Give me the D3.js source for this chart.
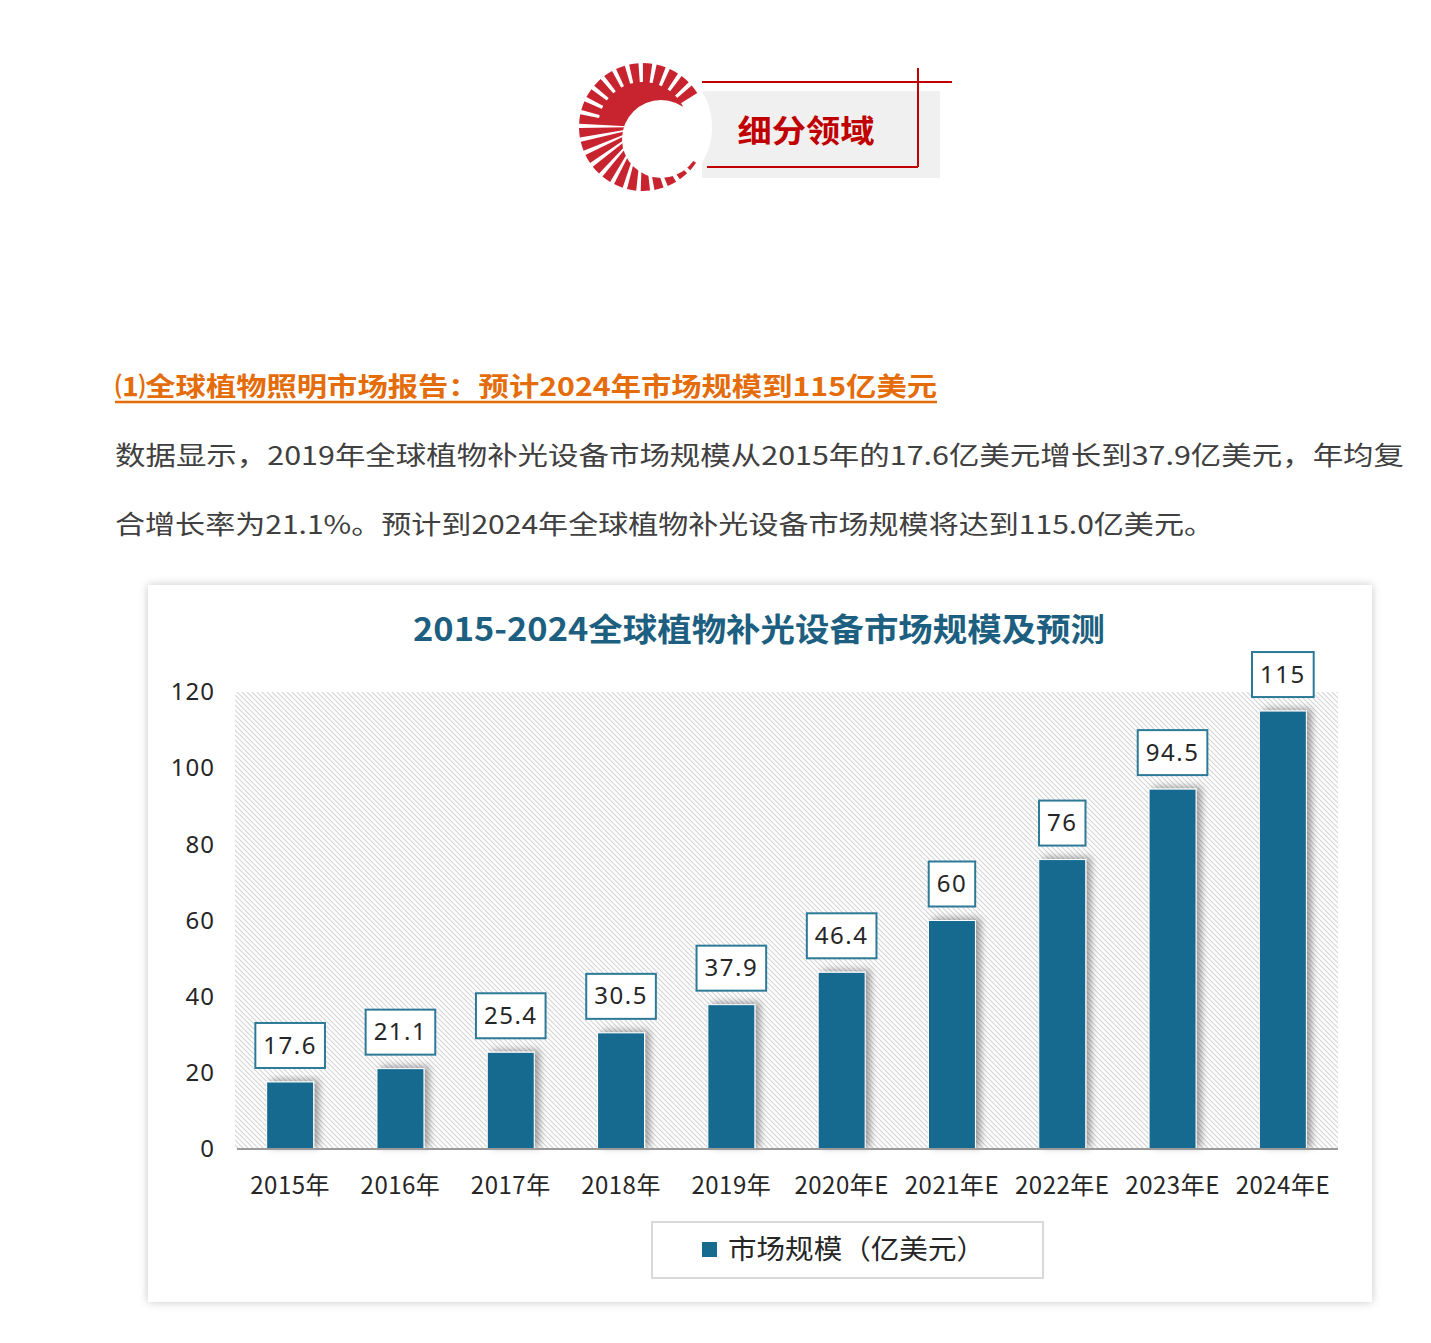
<!DOCTYPE html>
<html>
<head>
<meta charset="utf-8">
<script src="https://cdn.jsdelivr.net/npm/d3@7"></script>
<style>
  body { margin: 0; background: #fff; }
  svg { display: block; font-family: "Noto Sans CJK SC", "Noto Sans", sans-serif; }
</style>
</head>
<body>
<svg id="page" width="1431" height="1343"></svg>
<script>
// chart data
const years = ["2015年", "2016年", "2017年", "2018年", "2019年", "2020年E", "2021年E", "2022年E", "2023年E", "2024年E"];
const marketSize = [17.6, 21.1, 25.4, 30.5, 37.9, 46.4, 60, 76, 94.5, 115];
const yTicks = [0, 20, 40, 60, 80, 100, 120];
const seriesName = "市场规模（亿美元）";
const chartTitle = "2015-2024全球植物补光设备市场规模及预测";

const svg = d3.select("#page");
const defs = svg.append("defs");

// hatch for plot background
defs.append("pattern")
  .attr("id", "hatch")
  .attr("patternUnits", "userSpaceOnUse")
  .attr("width", 5)
  .attr("height", 5)
  .append("path")
  .attr("d", "M0,0L5,5M-1,4L1,6M4,-1L6,1")
  .attr("stroke", "#d4d4d4")
  .attr("stroke-width", 1.1);

const boxShadow = defs.append("filter").attr("id", "boxShadow")
  .attr("x", "-5%").attr("y", "-5%").attr("width", "110%").attr("height", "110%");
boxShadow.append("feDropShadow")
  .attr("dx", 0).attr("dy", 0).attr("stdDeviation", 5)
  .attr("flood-color", "#000").attr("flood-opacity", 0.22);

const barShadow = defs.append("filter").attr("id", "barShadow")
  .attr("x", "-30%").attr("y", "-10%").attr("width", "180%").attr("height", "120%");
barShadow.append("feDropShadow")
  .attr("dx", 5).attr("dy", -2).attr("stdDeviation", 3.5)
  .attr("flood-color", "#000").attr("flood-opacity", 0.35);

// ---- header badge ----
const badge = svg.append("g");
badge.append("rect")
  .attr("x", 702).attr("y", 91).attr("width", 238).attr("height", 87)
  .attr("fill", "#f0f0f0");
badge.append("path")
  .attr("d", "M702,82H952M918,68V167M707,167H918")
  .attr("fill", "none").attr("stroke", "#c00000").attr("stroke-width", 2);
badge.append("text")
  .attr("x", 806).attr("y", 142)
  .attr("text-anchor", "middle")
  .attr("fill", "#c00000")
  .attr("font-size", 31).attr("font-weight", 700)
  .attr("textLength", 137).attr("lengthAdjust", "spacingAndGlyphs")
  .text("细分领域");

const logo = badge.append("g").attr("transform", "translate(643,127)");
logo.append("circle").attr("r", 69).attr("fill", "#fff");
const rayArc = d3.arc().innerRadius(16).outerRadius(64);
const rayCount = 24;
const rayStart = 122 * Math.PI / 180, rayEnd = 420 * Math.PI / 180;
const rayStep = (rayEnd - rayStart) / rayCount;
d3.range(rayCount).forEach(function(i) {
  const a0 = rayStart + i * rayStep;
  logo.append("path")
    .attr("d", rayArc({ startAngle: a0 + 0.035, endAngle: a0 + rayStep - 0.035 }))
    .attr("fill", "#c8242f");
});
// solid crescent at the top
logo.append("path")
  .attr("d", d3.arc().innerRadius(0).outerRadius(45)({ startAngle: -1.45, endAngle: 1.2 }))
  .attr("fill", "#c8242f");
logo.append("circle")
  .attr("cx", 18).attr("cy", 12).attr("r", 39)
  .attr("fill", "#fff");

// ---- heading and paragraph ----
svg.append("text")
  .attr("x", 115).attr("y", 396)
  .attr("fill", "#e46c0a")
  .attr("font-size", 26).attr("font-weight", 700)
  .attr("textLength", 822).attr("lengthAdjust", "spacingAndGlyphs")
  .text("⑴全球植物照明市场报告：预计2024年市场规模到115亿美元");
svg.append("line")
  .attr("x1", 115).attr("x2", 937).attr("y1", 402).attr("y2", 402)
  .attr("stroke", "#e46c0a").attr("stroke-width", 2.5);

const para = [
  "数据显示，2019年全球植物补光设备市场规模从2015年的17.6亿美元增长到37.9亿美元，年均复",
  "合增长率为21.1%。预计到2024年全球植物补光设备市场规模将达到115.0亿美元。"
];
const paraWidth = [1289, 1099];
para.forEach(function(line, i) {
  svg.append("text")
    .attr("x", 115).attr("y", 465 + i * 69)
    .attr("fill", "#404040")
    .attr("font-size", 26)
    .attr("textLength", paraWidth[i]).attr("lengthAdjust", "spacingAndGlyphs")
    .text(line);
});

// ---- chart card ----
svg.append("rect")
  .attr("x", 148).attr("y", 585).attr("width", 1224).attr("height", 717)
  .attr("fill", "#fff")
  .attr("filter", "url(#boxShadow)");

svg.append("text")
  .attr("x", 759).attr("y", 641)
  .attr("text-anchor", "middle")
  .attr("fill", "#1d5f80")
  .attr("font-size", 32).attr("font-weight", 700)
  .attr("textLength", 692).attr("lengthAdjust", "spacingAndGlyphs")
  .text(chartTitle);

const plot = { left: 235, right: 1338, top: 692, bottom: 1149 };

const x = d3.scaleBand()
  .domain(years)
  .range([plot.left, plot.right])
  .paddingInner(0.574)
  .paddingOuter(0.287);
const y = d3.scaleLinear()
  .domain([0, 120])
  .range([plot.bottom, plot.top]);

svg.append("rect")
  .attr("x", plot.left).attr("y", plot.top)
  .attr("width", plot.right - plot.left).attr("height", plot.bottom - plot.top)
  .attr("fill", "url(#hatch)");

// y axis labels
const yAxis = svg.append("g")
  .attr("transform", "translate(" + plot.left + ",0)")
  .call(d3.axisLeft(y).tickValues(yTicks).tickSize(0).tickPadding(20));
yAxis.select(".domain").remove();
yAxis.selectAll("text")
  .attr("font-family", "'Noto Sans', sans-serif")
  .attr("font-size", 24)
  .attr("letter-spacing", 1)
  .attr("fill", "#262626");

// bars
svg.append("g")
  .selectAll("rect")
  .data(marketSize)
  .enter()
  .append("rect")
  .attr("x", (d, i) => x(years[i]))
  .attr("y", d => y(d))
  .attr("width", x.bandwidth())
  .attr("height", d => y(0) - y(d))
  .attr("fill", "#176b8f")
  .attr("stroke", "#fff")
  .attr("stroke-width", 1)
  .attr("filter", "url(#barShadow)");

// x axis
const xAxis = svg.append("g")
  .attr("transform", "translate(0," + plot.bottom + ")")
  .call(d3.axisBottom(x).tickSize(0).tickPadding(28));
xAxis.select(".domain")
  .attr("d", "M" + (plot.left + 2) + ",0H" + plot.right)
  .attr("stroke", "#9a9a9a")
  .attr("stroke-width", 2);
xAxis.selectAll("text")
  .attr("font-family", "'Noto Sans CJK SC', sans-serif")
  .attr("font-size", 24)
  .attr("letter-spacing", 0.5)
  .attr("fill", "#262626");

// data labels
const labels = svg.append("g")
  .selectAll("g")
  .data(marketSize)
  .enter()
  .append("g")
  .attr("transform", (d, i) => "translate(" + (x(years[i]) + x.bandwidth() / 2) + "," + (y(d) - 37) + ")");
labels.append("text")
  .attr("text-anchor", "middle")
  .attr("dy", "0.36em")
  .attr("font-family", "'Noto Sans', sans-serif")
  .attr("font-size", 24)
  .attr("letter-spacing", 1.5)
  .attr("fill", "#262626")
  .text(d => d);
labels.each(function() {
  const g = d3.select(this);
  const bb = g.select("text").node().getBBox();
  g.insert("rect", "text")
    .attr("x", bb.x - 8).attr("y", -22)
    .attr("width", bb.width + 16).attr("height", 45)
    .attr("fill", "#fff")
    .attr("stroke", "#2c7a98")
    .attr("stroke-width", 2);
});

// legend
const legend = svg.append("g");
legend.append("rect")
  .attr("x", 652).attr("y", 1222).attr("width", 391).attr("height", 56)
  .attr("fill", "#fff")
  .attr("stroke", "#d9d9d9").attr("stroke-width", 2);
legend.append("rect")
  .attr("x", 702).attr("y", 1242).attr("width", 15).attr("height", 15)
  .attr("fill", "#176b8f");
legend.append("text")
  .attr("x", 728).attr("y", 1259)
  .attr("font-size", 27)
  .attr("fill", "#262626")
  .attr("textLength", 257).attr("lengthAdjust", "spacingAndGlyphs")
  .text(seriesName);
</script>
</body>
</html>
